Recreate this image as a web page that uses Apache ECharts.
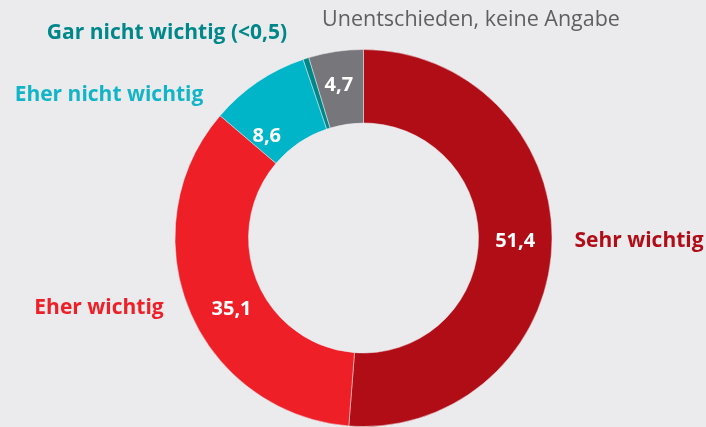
<!DOCTYPE html>
<html lang="de">

<head>
  <meta charset="UTF-8" />
  <title>Wichtigkeit</title>
  <script src="https://cdn.jsdelivr.net/npm/echarts@6/dist/echarts.min.js"></script>
  <style>
    body { margin: 0; background: #ebebed; }
  </style>
</head>

<body>
  <div id="main" style="width: 706px;height:427px;"></div>
  <script type="text/javascript">
    // Kategorien und Werte (Prozent)
    const categories = ['Sehr wichtig', 'Eher wichtig', 'Eher nicht wichtig', 'Gar nicht wichtig (<0,5)', 'Unentschieden, keine Angabe']
    const values = [51.4, 35.1, 8.6, 0.5, 4.7]
    const showValue = [true, true, true, false, true]

    const colors = ['#b10d17', '#ee1f27', '#00b5c8', '#00878a', '#77777b']
    const nameColors = ['#b10d17', '#ee1f27', '#12b5c8', '#00878a', '#5f5f63']
    // Position der Kategorienamen (Textmitte)
    const namePos = [[639, 241], [99, 308], [109, 95], [167, 33], [471, 20]]
    // kleine Verschiebung der Wertbeschriftungen
    const valueShift = [[-3, -3], [11, 12], [-10, 26], [0, 0], [-2, 0]]

    const myChart = echarts.init(document.getElementById('main'))

    const pieData = categories.map(function (name, i) {
      return {
        name: name,
        value: values[i],
        itemStyle: { color: colors[i] },
        label: { show: showValue[i] }
      }
    })

    const option = {
      backgroundColor: '#ebebed',
      animation: false,
      series: [{
        // Ring mit Werten
        type: 'pie',
        center: [363.5, 238],
        radius: [115, 188.5],
        startAngle: 90,
        clockwise: true,
        avoidLabelOverlap: false,
        silent: true,
        itemStyle: { borderColor: '#ebebed', borderWidth: 0.5 },
        label: {
          position: 'inside',
          color: '#ffffff',
          fontFamily: 'Open Sans',
          fontWeight: 'bold',
          fontSize: 20,
          formatter: function (p) {
            return String(p.value).replace('.', ',')
          }
        },
        labelLayout: function (p) {
          return { dx: valueShift[p.dataIndex][0], dy: valueShift[p.dataIndex][1] }
        },
        labelLine: { show: false },
        data: pieData
      }, {
        // nur Beschriftungen der Kategorien
        type: 'pie',
        center: [363.5, 238],
        radius: [115, 188.5],
        startAngle: 90,
        silent: true,
        itemStyle: { color: 'transparent' },
        label: {
          show: true,
          position: 'outside',
          overflow: 'none',
          fontFamily: 'Open Sans',
          fontSize: 21,
          formatter: '{b}'
        },
        labelLine: { show: false },
        labelLayout: function (p) {
          return {
            x: namePos[p.dataIndex][0],
            y: namePos[p.dataIndex][1],
            align: 'center',
            verticalAlign: 'middle'
          }
        },
        data: categories.map(function (name, i) {
          return {
            name: name,
            value: values[i],
            label: {
              color: nameColors[i],
              fontWeight: i === 4 ? 'normal' : 'bold',
              fontSize: i === 4 ? 21.5 : 21
            }
          }
        })
      }]
    }

    myChart.setOption(option)
  </script>
</body>

</html>
